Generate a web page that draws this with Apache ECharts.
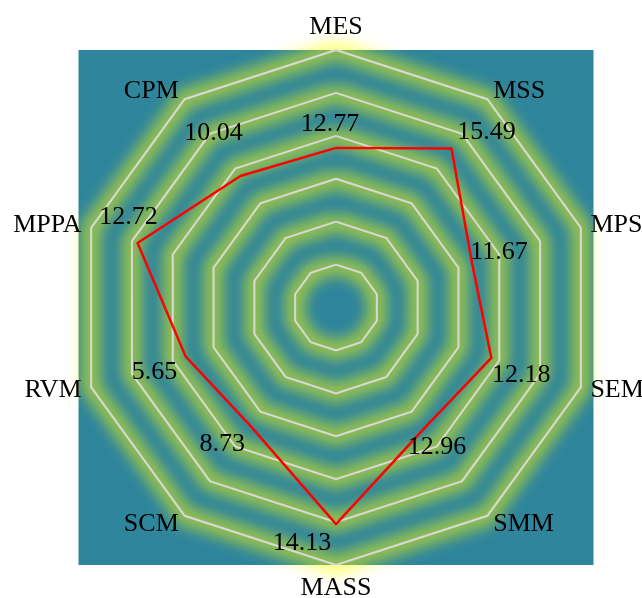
<!DOCTYPE html>
<html><head><meta charset="utf-8">
<script src="https://cdn.jsdelivr.net/npm/echarts@6/dist/echarts.min.js"></script>
<style>html,body{margin:0;padding:0;background:#fff}#c{width:642px;height:598px}</style>
</head><body><div id="c"></div>
<script>
// Indicators in ECharts order (counter-clockwise starting at top)
const indicators = ['MES', 'CPM', 'MPPA', 'RVM', 'SCM', 'MASS', 'SMM', 'SEM', 'MPS', 'MSS'];
const values = [12.77, 10.04, 12.72, 5.65, 8.73, 14.13, 12.96, 12.18, 11.67, 15.49];
const axisMax = [20.6, 15.9, 15.7, 9.2, 15.4, 16.8, 22.3, 19.2, 21.0, 20.3];
const ringCount = 6;

// layout / style (not data)
const CX = 336, CY = 307.5, R = 257.5;
const GLOW_SHIFT = 2000; // glow rings drawn off-canvas, only their blurred shadow is shifted back
const labelOffsets = [[-6, -24], [-27, -43], [-9, -26], [-31, 16], [-28, 19], [-34, 19], [13, 19], [30, 17], [27, -11], [35, -16]];
const FONT = "'Liberation Serif', 'Times New Roman', serif";

const chart = echarts.init(document.getElementById('c'), null, {renderer: 'canvas'});

const radarBase = {
  center: [CX, CY],
  radius: R,
  shape: 'polygon',
  startAngle: 90,
  splitNumber: ringCount,
  indicator: indicators.map((n, i) => ({name: n, min: 0, max: axisMax[i]})),
  axisLine: {show: false},
  axisTick: {show: false},
  axisLabel: {show: false},
  splitArea: {show: false}
};

const labelData = indicators.map((n, i) => ({
  value: indicators.map((m, j) => (j === i ? values[i] : null)),
  label: {offset: labelOffsets[i]}
}));

chart.setOption({
  animation: false,
  backgroundColor: '#ffffff',
  graphic: [{
    type: 'rect', z: 0,
    shape: {x: CX - R, y: CY - R, width: 2 * R, height: 2 * R},
    style: {fill: '#2E859C'}
  }],
  radar: [
    Object.assign({}, radarBase, {
      z: 2,
      center: [CX + GLOW_SHIFT, CY],
      axisName: {show: false},
      splitLine: {lineStyle: {color: '#ffff00', width: 20, shadowBlur: 14,
        shadowColor: 'rgba(255,255,0,0.5)', shadowOffsetX: -GLOW_SHIFT, shadowOffsetY: 0}}
    }),
    Object.assign({}, radarBase, {
      z: 3,
      nameGap: 10,
      axisName: {color: '#000', fontFamily: FONT, fontSize: 26},
      splitLine: {lineStyle: {color: '#d9d9d9', width: 2}}
    })
  ],
  series: [
    {
      type: 'radar', radarIndex: 1, z: 5,
      symbol: 'none',
      lineStyle: {color: '#ff0000', width: 2.5},
      data: [{value: values}]
    },
    {
      type: 'radar', radarIndex: 1, z: 6,
      symbol: 'circle', symbolSize: 2,
      itemStyle: {color: 'rgba(0,0,0,0)'},
      lineStyle: {width: 0, opacity: 0},
      label: {
        show: true, position: 'inside', color: '#000', fontFamily: FONT, fontSize: 26,
        formatter: p => (p.value == null || isNaN(p.value)) ? '' : Number(p.value).toFixed(2)
      },
      data: labelData
    }
  ]
});
</script>
</body></html>
